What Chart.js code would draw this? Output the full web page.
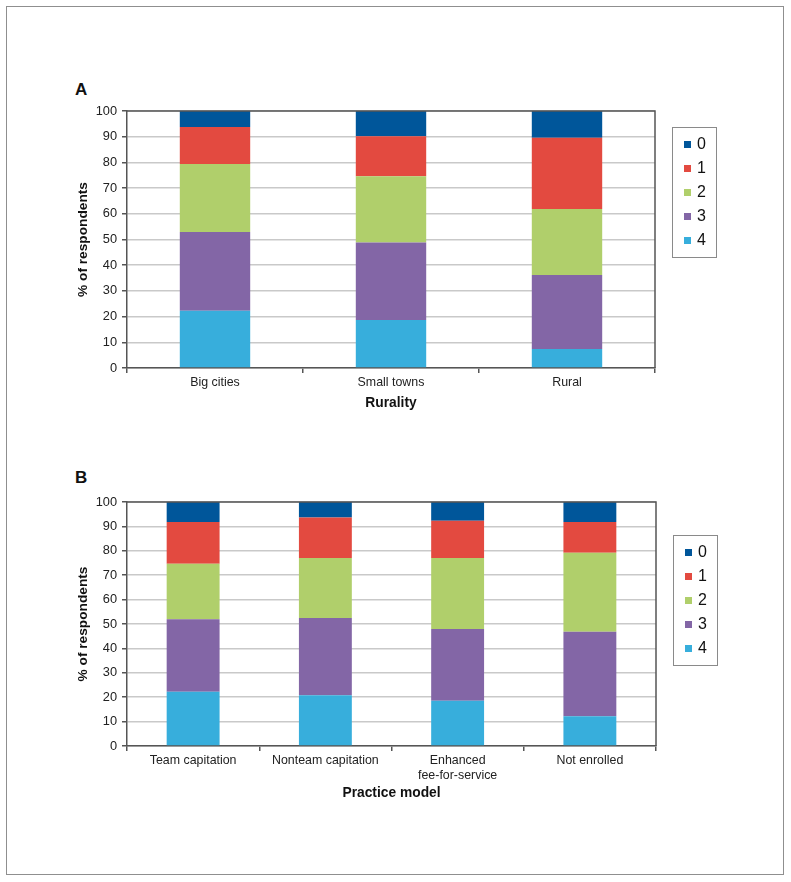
<!DOCTYPE html>
<html>
<head>
<meta charset="utf-8">
<script src="https://cdn.jsdelivr.net/npm/chart.js@4"></script>
<style>
  body{margin:0;background:#fff;width:791px;height:882px;position:relative;overflow:hidden;font-family:"Liberation Sans",Arial,sans-serif;}
  .frame{position:absolute;left:6px;top:6px;width:778px;height:869px;box-sizing:border-box;border:1.5px solid #8f8f8f;}
  .panel{position:absolute;left:75px;font-weight:bold;font-size:17px;color:#111;line-height:1;}
  canvas{position:absolute;left:0;}
</style>
</head>
<body>
<div class="frame"></div>
<div class="panel" style="top:81px">A</div>
<div class="panel" style="top:469px">B</div>
<canvas id="chartA" width="791" height="440" style="top:0"></canvas>
<canvas id="chartB" width="791" height="442" style="top:440px"></canvas>
<script>
// legend levels (top to bottom in legend), colours per level
const niveis=['0','1','2','3','4'];
const cores=['#00569a','#e34a40','#b0cf6b','#8366a6','#37aedc'];
const ticksY=[0,10,20,30,40,50,60,70,80,90,100];

// A - rurality
const categoriasA=['Big cities','Small towns','Rural'];
const A0=[6.2,9.8,10.4];
const A1=[14.4,15.6,27.7];
const A2=[26.5,25.8,25.7];
const A3=[30.6,30.1,28.8];
const A4=[22.3,18.7,7.4];

// B - practice model
const categoriasB=['Team capitation','Nonteam capitation',['Enhanced','fee-for-service'],'Not enrolled'];
const B0=[8.2,6.4,7.7,8.2];
const B1=[17.1,16.5,15.2,12.6];
const B2=[22.8,24.6,29.1,32.4];
const B3=[29.7,31.7,29.5,34.6];
const B4=[22.2,20.8,18.5,12.2];

const FONTE='"Liberation Sans", Arial, sans-serif';
const escuro='#555';

// draws the top/right border of the plot and the boxed legend
const molduraLegenda={
  id:'molduraLegenda',
  afterDatasetsDraw(chart,args,opts){
    const a=chart.chartArea,ctx=chart.ctx;
    ctx.save();
    ctx.strokeStyle=escuro;ctx.lineWidth=1.5;
    ctx.beginPath();
    ctx.moveTo(a.left,a.top);ctx.lineTo(a.right,a.top);ctx.lineTo(a.right,a.bottom);
    ctx.stroke();
    const bx=a.right+opts.dx,by=a.top+opts.dy;
    ctx.strokeStyle='#8a8a8a';ctx.lineWidth=1;
    ctx.strokeRect(bx+0.5,by+0.5,44,130);
    ctx.font='16px '+FONTE;ctx.textBaseline='middle';ctx.fillStyle='#111';
    niveis.forEach(function(n,i){
      const cy=by+17.5+i*24;
      ctx.fillStyle=cores[i];
      ctx.fillRect(bx+12,cy-3.5,7,7);
      ctx.fillStyle='#111';
      ctx.fillText(n,bx+25,cy+0.5);
    });
    ctx.restore();
  }
};

function montarDatasets(series){
  // stacked from the bottom: level 4 first
  const out=[];
  for(let i=niveis.length-1;i>=0;i--){
    out.push({label:niveis[i],data:series[i],backgroundColor:cores[i],borderWidth:0,
      barPercentage:0.4,categoryPercentage:1});
  }
  return out;
}

function criarGrafico(id,categorias,series,tituloX,cfg){
  return new Chart(document.getElementById(id),{
    type:'bar',
    data:{labels:categorias,datasets:montarDatasets(series)},
    plugins:[molduraLegenda],
    options:{
      responsive:false,animation:false,devicePixelRatio:1,
      layout:{padding:cfg.padding},
      plugins:{legend:{display:false},tooltip:{enabled:false},molduraLegenda:{dx:17,dy:cfg.legendaTopo}},
      scales:{
        x:{stacked:true,
          grid:{display:true,drawOnChartArea:false,drawTicks:true,tickLength:5,color:escuro,lineWidth:1.5,offset:true},
          border:{color:escuro,width:1.5},
          ticks:{color:'#222',padding:2,font:{family:FONTE,size:12.4,lineHeight:1.2},maxRotation:0,autoSkip:false},
          title:{display:true,text:tituloX,color:'#111',padding:{top:0,bottom:0},font:{family:FONTE,size:13.8,weight:'bold',lineHeight:1.2}},
          afterFit:function(s){s.height=cfg.alturaX;}
        },
        y:{stacked:true,min:0,max:100,
          afterBuildTicks:function(s){s.ticks=ticksY.map(function(v){return {value:v};});},
          grid:{color:'#c9c9c9',lineWidth:1.5,tickColor:escuro,tickLength:5},
          border:{color:escuro,width:1.5},
          ticks:{color:'#222',padding:5,font:{family:FONTE,size:12.8}},
          title:{display:true,text:'% of respondents',color:'#111',padding:{top:0,bottom:0},font:{family:FONTE,size:13.7,weight:'bold',lineHeight:1.2}},
          afterFit:function(s){s.width=52;}
        }
      }
    }
  });
}

criarGrafico('chartA',categoriasA,[A0,A1,A2,A3,A4],'Rurality',
  {padding:{left:75,top:111,right:136,bottom:29},alturaX:43,legendaTopo:16});
criarGrafico('chartB',categoriasB,[B0,B1,B2,B3,B4],'Practice model',
  {padding:{left:75,top:62,right:135,bottom:81},alturaX:55,legendaTopo:33});
</script>
</body>
</html>
